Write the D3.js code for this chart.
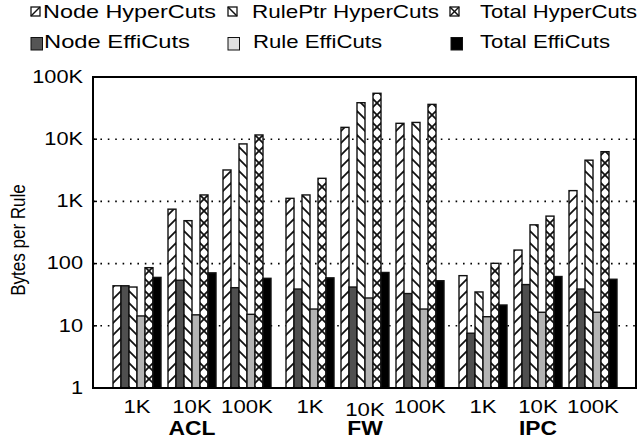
<!DOCTYPE html>
<html lang="en">
<head>
  <meta charset="UTF-8">
  <title>Bytes per Rule: HyperCuts vs EffiCuts</title>
  <script src="https://d3js.org/d3.v7.min.js"></script>
  <style>
    body { margin: 0; background: white; font-family: "Liberation Sans", Arial, sans-serif; }
    svg text { fill: #000; }
  </style>
</head>
<body>
  <svg id="chart" width="641" height="438"></svg>

  <script>
    // data
    const datasets = ["ACL", "FW", "IPC"];
    const sizes = ["1K", "10K", "100K"];
    const series = ["Node HyperCuts", "Node EffiCuts", "RulePtr HyperCuts", "Rule EffiCuts", "Total HyperCuts", "Total EffiCuts"];
    const tickValues = [1, 10, 100, 1000, 10000, 100000];
    const tickLabels = ["1", "10", "100", "1K", "10K", "100K"];

    // order: ACL 1K,10K,100K, FW 1K,10K,100K, IPC 1K,10K,100K
    const nodeHyper    = [44, 750, 3200, 1120, 15500, 18000, 64, 165, 1490];
    const nodeEffi     = [44, 54, 41, 39, 42, 33, 7.6, 46, 39];
    const rulePtrHyper = [42, 490, 8400, 1270, 38600, 18600, 35, 420, 4600];
    const ruleEffi     = [14.4, 15, 15.3, 18.6, 28, 18.6, 14, 16.5, 16.5];
    const totalHyper   = [86, 1270, 11700, 2350, 54700, 36300, 101, 580, 6300];
    const totalEffi    = [60, 71, 58, 59, 72, 53, 21.6, 62, 56];

    const seriesValues = [nodeHyper, nodeEffi, rulePtrHyper, ruleEffi, totalHyper, totalEffi];

    const svg = d3.select("#chart");
    const plotLeft = 93, plotRight = 636, plotTop = 77, plotBottom = 388;
    const stretch = 1.17; // the original figure is a bit wider than tall

    const y = d3.scaleLog().domain([1, 100000]).range([plotBottom, plotTop]);

    const xData = d3.scaleBand().domain(datasets).range([113, 617])
      .paddingInner(15 / 173).paddingOuter(0);
    const xSize = d3.scaleBand().domain(sizes).range([0, xData.bandwidth()])
      .paddingInner(7 / 55).paddingOuter(0);
    const xSeries = d3.scaleBand().domain(series).range([0, xSize.bandwidth()]);
    const bw = xSeries.bandwidth();

    // hatch patterns
    const defs = svg.append("defs");
    function hatch(id, paths) {
      const p = defs.append("pattern")
        .attr("id", id)
        .attr("patternUnits", "userSpaceOnUse")
        .attr("width", bw)
        .attr("height", 12);
      p.append("rect").attr("width", bw).attr("height", 12).attr("fill", "white");
      paths.forEach(d => p.append("path").attr("d", d)
        .attr("stroke", "#111").attr("stroke-width", 1.8).attr("fill", "none"));
    }
    hatch("hNode", ["M-1,12 L" + (bw + 1) + ",2"]);
    hatch("hRule", ["M-1,2 L" + (bw + 1) + ",12"]);
    hatch("hTotal", ["M-1,12 L" + (bw + 1) + ",2", "M-1,2 L" + (bw + 1) + ",12"]);

    const fills = {
      "Node HyperCuts": "url(#hNode)",
      "Node EffiCuts": "#4f4f4f",
      "RulePtr HyperCuts": "url(#hRule)",
      "Rule EffiCuts": "#b4b4b4",
      "Total HyperCuts": "url(#hTotal)",
      "Total EffiCuts": "#000"
    };

    // dotted grid
    svg.append("g").selectAll("line")
      .data(tickValues.slice(1, -1))
      .enter().append("line")
      .attr("x1", plotLeft).attr("x2", plotRight)
      .attr("y1", d => y(d)).attr("y2", d => y(d))
      .attr("stroke", "#000")
      .attr("stroke-width", 1.6)
      .attr("stroke-dasharray", "1.6,5.8");

    // bars
    const rows = [];
    datasets.forEach((ds, i) => sizes.forEach((sz, j) => {
      series.forEach((s, k) => rows.push({ ds, sz, s, v: seriesValues[k][i * 3 + j] }));
    }));

    const bars = svg.append("g").selectAll("g")
      .data(rows)
      .enter().append("g")
      .attr("transform", d => "translate(" + (xData(d.ds) + xSize(d.sz) + xSeries(d.s)) + ",0)");

    bars.append("rect")
      .attr("x", 0)
      .attr("y", d => y(d.v))
      .attr("width", bw)
      .attr("height", d => y(1) - y(d.v))
      .attr("fill", d => fills[d.s])
      .attr("stroke", "#111")
      .attr("stroke-width", 1.4);

    // frame
    svg.append("rect")
      .attr("x", plotLeft).attr("y", plotTop)
      .attr("width", plotRight - plotLeft).attr("height", plotBottom - plotTop)
      .attr("fill", "none").attr("stroke", "#000").attr("stroke-width", 2);

    // y ticks and labels
    svg.append("g").selectAll("line")
      .data(tickValues)
      .enter().append("line")
      .attr("x1", plotLeft).attr("x2", plotLeft + 4)
      .attr("y1", d => y(d)).attr("y2", d => y(d))
      .attr("stroke", "#000").attr("stroke-width", 1.5);

    svg.append("g").selectAll("text")
      .data(tickValues)
      .enter().append("text")
      .attr("transform", d => "translate(83," + (y(d) - 1) + ") scale(" + stretch + ",1)")
      .attr("dy", "0.36em")
      .attr("text-anchor", "end")
      .style("font-size", "18.6px")
      .text((d, i) => tickLabels[i]);

    svg.append("text")
      .attr("transform", "translate(25,240) scale(" + stretch + ",1) rotate(-90)")
      .attr("text-anchor", "middle")
      .style("font-size", "17px")
      .text("Bytes per Rule");

    // x labels
    const sizeLabels = [];
    datasets.forEach(ds => sizes.forEach(sz => sizeLabels.push({ ds, sz })));
    svg.append("g").selectAll("text")
      .data(sizeLabels)
      .enter().append("text")
      .attr("transform", d => "translate(" + (xData(d.ds) + xSize(d.sz) + xSize.bandwidth() / 2) + "," +
        (d.ds === "FW" && d.sz === "10K" ? 416 : 412.5) + ") scale(" + stretch + ",1)")
      .attr("text-anchor", "middle")
      .style("font-size", "19px")
      .text(d => d.sz);

    svg.append("g").selectAll("text")
      .data(datasets)
      .enter().append("text")
      .attr("transform", d => "translate(" + (xData(d) + xSize("10K") + xSize.bandwidth() / 2) + ",434.5) scale(" + stretch + ",1)")
      .attr("text-anchor", "middle")
      .style("font-size", "19.5px")
      .style("font-weight", "bold")
      .text(d => d);

    // legend: [box x, box y, text x, text width]
    const legendPos = {
      "Node HyperCuts": [31, 7, 43, 173],
      "RulePtr HyperCuts": [228, 7, 252, 187],
      "Total HyperCuts": [450, 7, 480, 157],
      "Node EffiCuts": [31, 37.5, 44, 146],
      "Rule EffiCuts": [228, 37.5, 253, 129],
      "Total EffiCuts": [451, 37.5, 480, 130]
    };
    const legendFill = {
      "Node EffiCuts": "#555",
      "Rule EffiCuts": "#e0e0e0",
      "Total EffiCuts": "#000"
    };

    const legend = svg.append("g").selectAll("g")
      .data(series)
      .enter().append("g")
      .attr("transform", d => "translate(" + legendPos[d][0] + "," + legendPos[d][1] + ")");

    legend.each(function(d) {
      const g = d3.select(this);
      if (d.indexOf("HyperCuts") >= 0) {
        g.append("rect").attr("width", 9).attr("height", 9)
          .attr("fill", "white").attr("stroke", "#111").attr("stroke-width", 1.3);
        if (d !== "RulePtr HyperCuts") g.append("path").attr("d", "M0,9 L9,0");
        if (d !== "Node HyperCuts") g.append("path").attr("d", "M0,0 L9,9");
        g.selectAll("path").attr("stroke", "#111").attr("stroke-width", 1.5);
      } else {
        g.append("rect").attr("width", 11.5).attr("height", 12.5)
          .attr("fill", legendFill[d]).attr("stroke", "#111").attr("stroke-width", 1);
      }
    });

    svg.append("g").selectAll("text")
      .data(series)
      .enter().append("text")
      .attr("x", d => legendPos[d][2])
      .attr("y", d => legendPos[d][1] > 20 ? 48.3 : 18.3)
      .attr("textLength", d => legendPos[d][3])
      .attr("lengthAdjust", "spacingAndGlyphs")
      .style("font-size", "18.6px")
      .text(d => d);
  </script>
</body>
</html>
